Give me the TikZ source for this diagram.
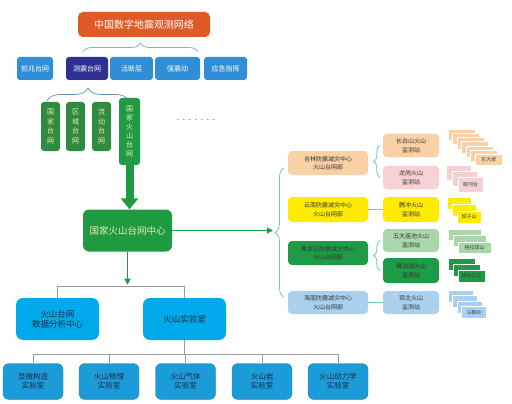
\documentclass[tikz,border=0pt]{standalone}
\usepackage{fontspec}
\setmainfont{Noto Sans CJK SC}
\usetikzlibrary{arrows.meta,decorations.pathreplacing,calc}
\definecolor{cTitle}{HTML}{E05A28}
\definecolor{cRow}{HTML}{2F8ED6}
\definecolor{cNavy}{HTML}{2E3192}
\definecolor{cBrace}{HTML}{7DB3DF}
\definecolor{cVGreen}{HTML}{2E8B3F}
\definecolor{cVGreen4}{HTML}{1F9A45}
\definecolor{cPale}{HTML}{F2EBB0}
\definecolor{cGreen}{HTML}{1E9A40}
\definecolor{cData}{HTML}{00A9EC}
\definecolor{cLab}{HTML}{1B9CD8}
\definecolor{cGray}{HTML}{9A9A9A}
\definecolor{cTeal}{HTML}{72CBAE}
\definecolor{cPeach}{HTML}{F9D1A4}
\definecolor{cPink}{HTML}{F7D0D4}
\definecolor{cYellow}{HTML}{FFEB00}
\definecolor{cLGreen}{HTML}{A9D7A9}
\definecolor{cDGreen}{HTML}{1F9A47}
\definecolor{cLBlue}{HTML}{A9D1EF}
\definecolor{cText}{HTML}{1E2A48}
\begin{document}
\begin{tikzpicture}[x=1pt,y=-1pt,
  every node/.style={inner sep=0pt, align=center},
  titlebox/.style={rounded corners=5pt, fill=cTitle, text=white, font=\fontsize{10}{12}\selectfont},
  rowbox/.style={rounded corners=3pt, fill=cRow, text=white, font=\fontsize{7}{8}\selectfont, minimum height=23pt},
  vbox/.style={rounded corners=3pt, fill=cVGreen, text=cPale, font=\fontsize{7}{9.5}\selectfont, minimum width=19pt},
  centerbox/.style={rounded corners=6pt, fill=cGreen, text=cPale, font=\fontsize{9.5}{11}\selectfont, minimum width=89pt, minimum height=42pt},
  databox/.style={rounded corners=7pt, fill=cData, text=cText, font=\fontsize{8.5}{10}\selectfont, minimum width=83pt, minimum height=42pt},
  labbox/.style={rounded corners=6pt, fill=cLab, draw=cLab!80!black, line width=0.3pt, text=cText, font=\fontsize{7.5}{9}\selectfont, minimum width=60pt, minimum height=36pt},
  regbox/.style={rounded corners=4pt, text=black!80, font=\fontsize{6}{8.5}\selectfont, minimum width=80pt, minimum height=24pt},
  stabox/.style={rounded corners=4pt, text=black!80, font=\fontsize{6}{8.5}\selectfont, minimum width=56pt, minimum height=24pt},
  card/.style={draw=white, line width=0.5pt, text=black!75, font=\fontsize{5}{6}\selectfont},
  brc/.style={decorate, decoration={brace, amplitude=#1}},
  grayline/.style={draw=cGray, line width=0.7pt},
  tealline/.style={draw=cTeal, line width=0.8pt}
]
\useasboundingbox (0,0) rectangle (512,404);

% ---- top
\node[titlebox, minimum width=132pt, minimum height=25pt] (title) at (144,24.5) {中国数字地震观测网络};
\coordinate (tb1) at (83,52);
\coordinate (tb2) at (198,52);
\draw[brc=9, draw=cBrace, line width=0.8pt] (tb1) -- (tb2);

\node[rowbox, minimum width=36pt] (r1) at (35,68.5) {前兆台网};
\node[rowbox, minimum width=42pt, fill=cNavy] (r2) at (87,68.5) {测震台网};
\node[rowbox, minimum width=43pt] (r3) at (131.5,68.5) {活断层};
\node[rowbox, minimum width=45pt] (r4) at (177.5,68.5) {强震动};
\node[rowbox, minimum width=43pt] (r5) at (225.5,68.5) {应急指挥};

% ---- second brace and green vertical boxes
\coordinate (sb1) at (47,101);
\coordinate (sb2) at (129,101);
\draw[brc=13, draw=cBrace!80!black, line width=0.7pt] (sb1) -- (sb2);

\node[vbox, minimum height=49pt] (v1) at (50.5,126.5) {国\\家\\台\\网};
\node[vbox, minimum height=49pt] (v2) at (75.5,126.5) {区\\域\\台\\网};
\node[vbox, minimum height=49pt] (v3) at (101.5,126.5) {流\\动\\台\\网};
\node[vbox, fill=cVGreen4, minimum width=21pt, minimum height=67pt, font=\fontsize{7}{8.9}\selectfont] (v4) at (129.5,131.5) {国\\家\\火\\山\\台\\网};

\node[text=black!70, font=\fontsize{8}{8}\selectfont] (dots) at (196,120) {.\kern3.8pt.\kern3.8pt.\kern3.8pt.\kern3.8pt.\kern3.8pt.\kern3.8pt.};

% ---- center
\node[centerbox] (center) at (127.5,230.5) {国家火山台网中心};
\draw[-{Triangle[width=17pt,length=11pt]}, draw=cGreen, fill=cGreen, line width=8pt] (v4.south) -- (v4.south |- center.north);

% ---- right brace
\coordinate (rb1) at (284,297);
\coordinate (rb2) at (284,168);
\draw[brc=9, tealline] (rb1) -- (rb2);
\coordinate (bt) at (273,231);
\draw[-{Triangle[width=6pt,length=6pt]}, draw=cGreen, line width=1.2pt] (center.east) -- (center.east -| bt);

% ---- lower tree
\node[databox] (dc) at (57.5,319) {火山台网\\数据分析中心};
\node[databox] (lab) at (184.5,319) {火山实验室};
\draw[-{Triangle[width=6pt,length=6pt]}, draw=cGreen, line width=1.2pt] (center.south) -- ++(0,33);
\draw[grayline] (dc.north) -- ++(0,-11) -| (lab.north);

\node[labbox] (b1) at (33,381.5) {显微构造\\实验室};
\node[labbox] (b2) at (109,381.5) {火山物理\\实验室};
\node[labbox] (b3) at (185.5,381.5) {火山气体\\实验室};
\node[labbox] (b4) at (262,381.5) {火山岩\\实验室};
\node[labbox] (b5) at (338,381.5) {火山动力学\\实验室};
\draw[grayline] (lab.south) -- ++(0,14);
\draw[grayline] (b1.north) -- ++(0,-9.5) -| (b5.north);
\draw[grayline] (b2.north) -- ++(0,-9.5);
\draw[grayline] (b3.north) -- ++(0,-9.5);
\draw[grayline] (b4.north) -- ++(0,-9.5);

% ---- right side regional boxes
\node[regbox, fill=cPeach] (jl) at (328,163) {吉林防震减灾中心\\火山台网部};
\node[regbox, fill=cYellow, minimum height=25pt] (yn) at (328,209.5) {云南防震减灾中心\\火山台网部};
\node[regbox, fill=cDGreen] (hlj) at (328,253) {黑龙江防震减灾中心\\火山台网部};
\node[regbox, fill=cLBlue, minimum height=23pt] (hn) at (328,302.5) {海南防震减灾中心\\火山台网部};

\node[stabox, fill=cPeach, minimum height=23.5pt] (cbs) at (411,145.5) {长白山火山\\监测站};
\node[stabox, fill=cPink, minimum height=23.5pt] (lg) at (411,177.5) {龙岗火山\\监测站};
\node[stabox, fill=cYellow, minimum height=25pt] (tc) at (411,209.5) {腾冲火山\\监测站};
\node[stabox, fill=cLGreen, minimum height=23pt] (wd) at (411,240.5) {五大连池火山\\监测站};
\node[stabox, fill=cDGreen, minimum height=25pt] (jp) at (411,270.5) {镜泊湖火山\\监测站};
\node[stabox, fill=cLBlue, minimum height=23pt] (qb) at (411,302.5) {琼北火山\\监测站};

\draw[brc=6, tealline] ($(lg.west)+(-3,0)$) -- ($(cbs.west)+(-3,0)$);
\draw[brc=6, tealline] ($(jp.west)+(-3,0)$) -- ($(wd.west)+(-3,0)$);
\draw[tealline] (yn.east) -- (tc.west);
\draw[tealline] (hn.east) -- (qb.west);

% ---- card stacks
\foreach \i in {0,...,5}
  \node[card, fill=cPeach, minimum width=27pt, minimum height=11.5pt] (ca\i) at ({461.5+4.5*\i},{134.75+4.2*\i}) {};
\node[card, fill=cPeach, minimum width=27pt, minimum height=11.5pt] (ca6) at ({461.5+4.5*6},{134.75+4.2*6}) {东大坡};

\foreach \i in {0,1}
  \node[card, fill=cPink, minimum width=25pt, minimum height=15pt] (cb\i) at ({458.5+6*\i},{172.5+6*\i}) {};
\node[card, fill=cPink, minimum width=25pt, minimum height=15pt] (cb2) at ({458.5+12},{172.5+12}) {柳河台};

\foreach \i in {0,1}
  \node[card, fill=cYellow, minimum width=24pt, minimum height=12pt] (cc\i) at ({459+5*\i},{203+7*\i}) {};
\node[card, fill=cYellow, minimum width=24pt, minimum height=12pt] (cc2) at ({459+10},{203+14}) {城子山};

\foreach \i in {0,1}
  \node[card, fill=cLGreen, minimum width=33pt, minimum height=11pt] (cd\i) at ({464.5+5*\i},{234.5+6.5*\i}) {};
\node[card, fill=cLGreen, minimum width=33pt, minimum height=11pt] (cd2) at ({464.5+10},{234.5+13}) {格拉球山};

\foreach \i in {0,1}
  \node[card, fill=cDGreen, minimum width=27pt, minimum height=12pt] (ce\i) at ({461.5+5*\i},{264+6*\i}) {};
\node[card, fill=cDGreen, minimum width=27pt, minimum height=12pt] (ce2) at ({461.5+10},{264+12}) {镜泊山庄};

\foreach \i in {0,1,2}
  \node[card, fill=cLBlue, minimum width=25pt, minimum height=12pt] (cf\i) at ({460.5+4.5*\i},{296+5.5*\i}) {};
\node[card, fill=cLBlue, minimum width=25pt, minimum height=12pt] (cf3) at ({460.5+13.5},{296+16.5}) {马鞍岭};
\end{tikzpicture}
\end{document}
